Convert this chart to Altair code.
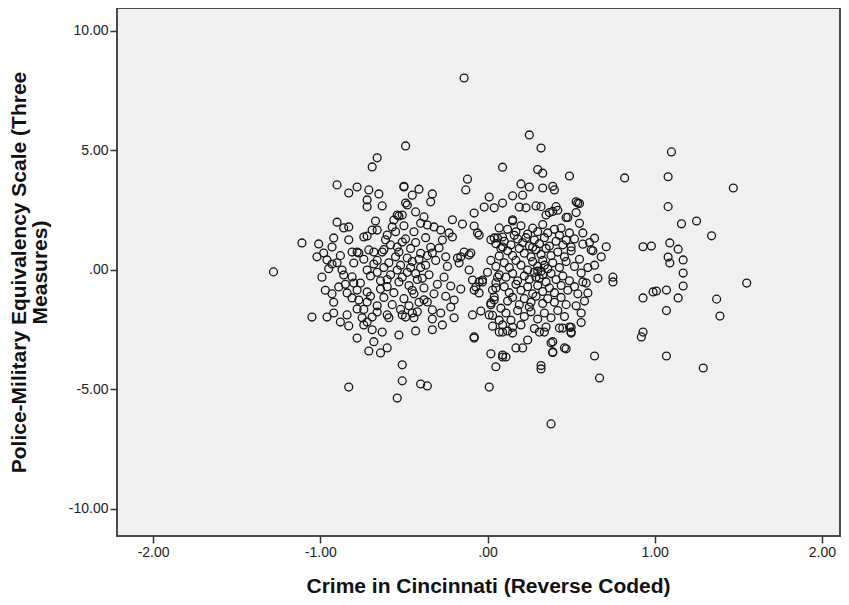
import altair as alt
import pandas as pd

# (crime_reverse_coded, police_military_scale) pairs
outlier_pts = [
    (-1.28, -0.08), (-1.11, 1.13), (-0.83, -4.9), (-0.54, -5.36), (-0.51, -4.64),
    (-0.51, -3.97), (-0.40, -4.77), (-0.36, -4.85), (-0.49, 5.19), (-0.66, 4.69),
    (-0.69, 4.31), (-0.14, 8.03), (0.25, 5.65), (0.32, 5.1), (0.09, 4.3),
    (0.82, 3.85), (1.10, 4.94), (1.08, 3.9), (1.08, 2.65), (1.47, 3.43),
    (1.25, 2.05), (1.16, 1.93), (1.34, 1.43), (1.55, -0.55), (1.37, -1.22),
    (1.39, -1.93), (1.29, -4.1), (1.07, -3.6), (0.92, -2.8), (0.93, -2.6),
    (1.07, -1.7), (0.93, -1.17), (0.99, -0.92), (1.01, -0.88), (1.07, -0.84),
    (1.14, -1.17), (1.17, -0.67), (1.17, -0.13), (1.17, 0.42), (1.08, 0.54),
    (1.09, 0.29), (0.93, 0.97), (0.98, 1.0), (1.09, 1.13), (1.14, 0.87),
    (0.64, -3.6), (0.67, -4.52), (0.38, -6.44), (0.01, -4.9), (0.32, -4.0),
    (0.32, -4.14), (0.05, -4.05),
]

right_pts = [
    (0.49, 3.93), (0.54, 2.8), (0.55, 2.78), (0.57, 1.55), (0.64, 1.33),
    (0.71, 0.97), (0.57, 1.08), (0.63, 0.8), (0.68, 0.55), (0.75, -0.3),
    (0.75, -0.5), (0.66, -0.35), (0.64, 0.2), (0.62, 0.84), (0.56, -0.13),
    (0.59, -0.55), (0.60, -0.96), (0.56, -1.8), (0.50, -2.4), (0.50, -2.6),
    (0.45, -2.43), (0.47, -3.3), (0.39, -3.0), (0.39, -3.45), (0.34, -2.6),
    (0.44, 1.75), (0.49, 1.55), (0.47, 1.25), (0.50, 0.96), (0.48, 2.2),
    (0.53, 2.85), (0.53, 2.4), (0.46, -3.26), (0.52, 1.3), (0.55, 0.45),
    (0.57, -0.5), (0.54, -1.0), (0.53, -1.5), (0.56, -2.2), (0.60, 0.1),
    (0.58, -1.3), (0.55, 1.95), (0.61, 1.15),
]

upper_mid_pts = [
    (0.30, 4.2), (0.33, 4.05), (-0.12, 3.8), (-0.13, 3.35), (0.33, 3.43),
    (0.39, 3.5), (0.40, 3.35), (0.20, 3.6), (0.25, 3.47), (0.15, 3.1),
    (0.21, 3.13), (0.01, 3.05), (-0.02, 2.63), (0.04, 2.6), (0.09, 2.8),
    (-0.08, 2.38), (-0.21, 2.1), (-0.15, 1.92), (-0.08, 1.84), (-0.06, 1.55),
    (-0.05, 1.46), (-0.23, 1.55), (-0.21, 1.38), (0.15, 2.05), (0.19, 2.63),
    (0.23, 2.6), (0.29, 2.68), (0.32, 2.65), (0.41, 2.65), (0.39, 2.45),
    (0.35, 2.3), (0.37, 2.4), (0.42, 2.5), (0.47, 2.2), (-0.29, 0.92),
    (-0.33, 0.71), (-0.14, 0.75), (-0.11, 0.63), (-0.16, 0.55), (0.02, 1.26),
    (0.06, 1.34), (0.09, 0.96), (0.07, 0.58), (0.15, 2.1), (0.07, 1.76),
    (0.04, 1.34), (0.09, 1.38), (-0.18, 0.5), (-0.10, 0.71), (-0.17, 0.29),
    (-0.27, 1.25), (-0.25, 0.55), (-0.24, 0.15),
]

lower_mid_pts = [
    (-0.11, 0.0), (-0.09, -0.42), (-0.05, -0.5), (-0.07, -0.71), (-0.05, -0.96),
    (-0.03, -0.5), (0.03, -0.84), (0.05, -0.54), (0.04, -1.13), (-0.22, -0.67),
    (-0.16, -0.8), (-0.20, -1.26), (-0.22, -1.55), (-0.36, -1.34), (-0.33, -1.67),
    (-0.28, -1.8), (-0.33, -2.05), (-0.33, -2.5), (-0.43, -2.55), (-0.51, -1.88),
    (-0.49, -1.97), (-0.44, -2.0), (-0.45, -1.8), (-0.53, -2.72), (-0.08, -2.85),
    (-0.09, -1.88), (-0.04, -1.72), (0.01, -1.88), (0.02, -1.38), (0.02, -3.51),
    (0.09, -3.64), (0.11, -3.64), (0.07, -2.6), (0.05, -0.75), (0.04, -1.26),
    (0.02, -1.46), (0.03, -1.9), (-0.08, -2.8), (0.09, -3.56), (0.38, -3.05),
    (0.39, -3.43), (0.24, -2.93), (0.17, -3.26), (0.21, -3.26), (0.09, -2.6),
    (0.15, -2.64), (0.31, -2.6), (0.35, -2.39), (0.43, -2.43), (0.49, -2.39),
    (0.50, -2.64), (-0.08, -0.84), (-0.03, -0.42), (-0.26, -0.3), (-0.27, -2.3),
    (-0.20, -2.0), (-0.25, -1.1),
]

left_pts = [
    (-0.90, 3.56), (-0.83, 3.22), (-0.78, 3.47), (-0.71, 3.35), (-0.65, 3.18),
    (-0.72, 2.93), (-0.72, 2.64), (-0.63, 2.68), (-0.50, 3.47), (-0.49, 2.8),
    (-0.90, 2.0), (-0.86, 1.76), (-0.83, 1.8), (-0.67, 2.05), (-0.54, 2.3),
    (-0.53, 2.26), (-0.56, 2.09), (-0.57, 1.8), (-0.66, 1.67), (-0.69, 1.67),
    (-0.74, 1.38), (-0.72, 1.42), (-0.60, 1.46), (-0.61, 1.26), (-1.01, 1.09),
    (-0.92, 1.34), (-0.93, 0.96), (-0.83, 1.26), (-0.98, 0.71), (-0.81, 0.75),
    (-0.77, 0.71), (-0.71, 0.84), (-0.68, 0.75), (-0.63, 0.75), (-0.54, 0.96),
    (-0.51, 1.17), (-0.50, 3.5), (-0.41, 3.38), (-0.45, 3.13), (-0.33, 3.18),
    (-0.34, 2.85), (-0.48, 2.72), (-0.43, 2.43), (-0.38, 2.22), (-0.36, 1.88),
    (-0.32, 1.8), (-0.28, 1.67), (-0.51, 2.3), (-0.96, 0.42), (-0.93, 0.25),
    (-0.87, 0.0), (-0.86, -0.21), (-0.81, -0.29), (-0.78, 0.75), (-0.80, 0.29),
    (-0.72, 0.0), (-0.89, -0.71), (-0.93, -1.0), (-0.84, -0.96), (-0.78, -0.84),
    (-0.72, -0.92), (-0.81, -1.17), (-0.77, -1.26), (-0.72, -1.34), (-1.05, -1.97),
    (-0.96, -1.97), (-0.92, -1.8), (-0.88, -2.18), (-0.83, -2.34), (-0.84, -1.88),
    (-0.78, -1.63), (-0.75, -2.0), (-0.72, -2.18), (-0.74, -2.3), (-0.78, -2.85),
    (-0.71, -3.39), (-0.68, -3.0), (-0.64, -3.47), (-0.60, -3.26), (-0.69, -2.5),
    (-0.63, -2.6), (-0.59, -2.0), (-0.60, -1.88), (-0.69, -1.97), (-0.66, -1.76),
]

left_core_pts = [
    (-0.66, 0.4), (-0.62, 0.1), (-0.58, -0.2), (-0.55, 0.55), (-0.52, 0.2),
    (-0.48, -0.1), (-0.45, 0.35), (-0.42, -0.4), (-0.40, 0.1), (-0.38, -0.75),
    (-0.36, 0.6), (-0.35, -0.2), (-0.64, -0.45), (-0.60, -0.7), (-0.56, -0.95),
    (-0.53, -0.5), (-0.50, -1.2), (-0.47, -0.65), (-0.44, -1.0), (-0.41, -1.35),
    (-0.39, -0.35), (-0.62, 0.85), (-0.58, 1.05), (-0.53, 0.75), (-0.49, 1.3),
    (-0.46, 0.9), (-0.43, 1.15), (-0.40, 0.7), (-0.37, 1.35), (-0.34, 0.95),
    (-0.31, 0.4), (-0.30, -0.6), (-0.32, -1.0), (-0.68, 0.25), (-0.70, -0.25),
    (-0.66, -0.1), (-0.74, 0.45), (-0.76, -0.55), (-0.62, -1.15), (-0.57, -1.45),
    (-0.52, -1.65), (-0.47, -1.5), (-0.42, -1.75), (-0.38, -1.25), (-0.55, 1.6),
    (-0.50, 1.85), (-0.44, 1.6), (-0.40, 1.95), (-0.46, 0.1), (-0.43, -0.15),
    (-0.51, -0.3), (-0.54, 0.0), (-0.59, 0.3), (-0.45, -0.85), (-0.48, 0.5),
    (-0.41, 0.45), (-0.37, 0.2), (-0.60, -0.4), (-0.64, -0.8), (-0.66, -1.5),
    (-0.70, -1.1), (-0.74, -1.65), (-0.80, -0.55), (-0.85, -0.6), (-0.90, 0.3),
    (-0.88, 0.6), (-0.95, 0.05), (-0.99, -0.3), (-1.02, 0.55), (-0.97, -0.85),
    (-0.92, -1.35),
]

center_core_pts = [
    (0.12, 1.7), (0.17, 1.6), (0.20, 1.85), (0.24, 1.5), (0.27, 1.75),
    (0.30, 1.6), (0.33, 1.9), (0.36, 1.55), (0.40, 1.7), (0.43, 1.45),
    (0.10, 1.2), (0.14, 1.05), (0.18, 1.3), (0.21, 1.15), (0.25, 1.0),
    (0.28, 1.25), (0.31, 1.1), (0.34, 1.35), (0.37, 1.0), (0.41, 1.2),
    (0.45, 1.05), (0.16, 1.45), (0.23, 1.35), (0.12, 0.8), (0.15, 0.6),
    (0.19, 0.9), (0.22, 0.7), (0.26, 0.55), (0.29, 0.85), (0.32, 0.65),
    (0.35, 0.9), (0.38, 0.6), (0.42, 0.75), (0.46, 0.55), (0.50, 0.8),
    (0.27, 0.95), (0.10, 0.3), (0.13, 0.1), (0.17, 0.4), (0.20, 0.2),
    (0.24, 0.0), (0.27, 0.35), (0.30, 0.15), (0.33, 0.4), (0.36, 0.05),
    (0.39, 0.3), (0.43, 0.1), (0.47, 0.35), (0.52, 0.15), (0.30, -0.05),
    (0.34, 0.2), (0.11, -0.3), (0.15, -0.15), (0.18, -0.45), (0.22, -0.25),
    (0.25, -0.4), (0.28, -0.1), (0.31, -0.35), (0.33, -0.2), (0.35, -0.5),
    (0.38, -0.15), (0.41, -0.4), (0.45, -0.25), (0.49, -0.45), (0.29, -0.3),
    (0.32, -0.05), (0.10, -0.7), (0.13, -0.95), (0.17, -0.6), (0.20, -0.85),
    (0.24, -0.7), (0.27, -1.0), (0.30, -0.65), (0.33, -0.9), (0.37, -0.75),
    (0.40, -0.95), (0.44, -0.65), (0.48, -0.85), (0.52, -0.7), (0.12, -1.3),
    (0.15, -1.15), (0.19, -1.45), (0.22, -1.2), (0.26, -1.35), (0.29, -1.1),
    (0.33, -1.4), (0.36, -1.2), (0.40, -1.35), (0.44, -1.15), (0.47, -1.45),
    (0.25, -1.55), (0.11, -1.8), (0.14, -2.1), (0.18, -1.7), (0.22, -1.95),
    (0.26, -1.75), (0.30, -2.05), (0.34, -1.8), (0.38, -2.0), (0.42, -1.7),
    (0.46, -1.95), (0.15, -2.4), (0.20, -2.3), (0.28, -2.45), (0.12, -2.55),
    (0.02, 0.4), (0.05, 0.15), (0.07, -0.2), (0.08, 0.9), (0.05, 1.1),
    (0.06, -0.3), (0.08, -1.6), (0.07, -2.1), (0.09, -2.3), (0.00, -0.1),
    (0.03, -2.35),
]

groups = [outlier_pts, right_pts, upper_mid_pts, lower_mid_pts,
          left_pts, left_core_pts, center_core_pts]
rows = [p for g in groups for p in g]
df = pd.DataFrame(rows, columns=["crime", "pmes"])

x_ticks = [-2, -1, 0, 1, 2]
y_ticks = [-10, -5, 0, 5, 10]
fmt = ("datum.value == 0 ? '.00' : "
       "(datum.value < 0 ? '-' + format(-datum.value, '.2f') : format(datum.value, '.2f'))")

chart = alt.Chart(df).mark_point(
    shape="circle", filled=False, size=62, strokeWidth=1.3, color="#151515", opacity=1
).encode(
    x=alt.X("crime:Q",
            scale=alt.Scale(domain=[-2.216, 2.108], nice=False, zero=False),
            axis=alt.Axis(values=x_ticks, labelExpr=fmt,
                          title="Crime in Cincinnati (Reverse Coded)",
                          titleX=371, titlePadding=16)),
    y=alt.Y("pmes:Q",
            scale=alt.Scale(domain=[-11.13, 10.96], nice=False, zero=False),
            axis=alt.Axis(values=y_ticks, labelExpr=fmt,
                          title=["Police-Military Equivalency Scale (Three", "Measures)"],
                          titlePadding=18)),
).properties(
    width=723, height=528,
    autosize=alt.AutoSizeParams(type="none"),
    padding={"left": 109, "top": 0, "right": 1, "bottom": 61},
    background="white",
).configure_view(
    fill="#F0F0F0", stroke="#4a4a4a", strokeWidth=2
).configure_axis(
    domain=False, grid=False, ticks=True, tickSize=7, tickWidth=1.5,
    tickColor="#333333", labelPadding=2,
    labelFont="Liberation Sans", labelFontSize=14, labelColor="#222222",
    titleFont="Liberation Sans", titleFontSize=21, titleFontWeight="bold",
    titleColor="#111111", titleLineHeight=21,
)

chart.save("out.html", embed_options={"renderer": "svg", "actions": False})
